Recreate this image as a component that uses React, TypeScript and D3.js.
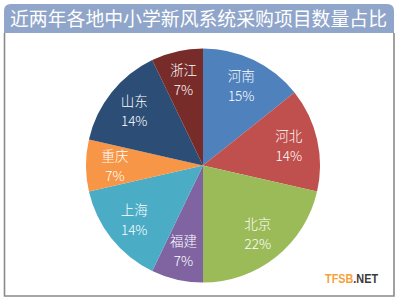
import React from "react";
import * as d3 from "d3";

const title = "近两年各地中小学新风系统采购项目数量占比";
const regions = ["河南", "河北", "北京", "福建", "上海", "重庆", "山东", "浙江"];
const counts = [2, 2, 3, 1, 2, 1, 2, 1];
const pctLabels = ["15%", "14%", "22%", "7%", "14%", "7%", "14%", "7%"];
const colors = ["#4F81BD", "#C0504D", "#9BBB59", "#8064A2", "#4BACC6", "#F79646", "#2C4D75", "#772C2A"];
const watermarkA = "TFSB";
const watermarkB = ".NET";

const W = 400;
const H = 301;
const cx = 203;
const cy = 165.5;
const R = 117;
const labelR = 88;

export default function App() {
  const data = regions.map((name, i) => ({ name, value: counts[i], pct: pctLabels[i], color: colors[i] }));
  const pie = d3.pie<any>().value((d: any) => d.value).sort(null);
  const arcs = pie(data);
  const arc = d3.arc<any>().innerRadius(0).outerRadius(R);
  const labelArc = d3.arc<any>().innerRadius(labelR).outerRadius(labelR);
  const font = "'Noto Sans CJK SC', 'Noto Sans', sans-serif";

  const bx0 = 4, bx1 = 394, by0 = 4, by1 = 33, rr = 7;
  const barPath = `M${bx0},${by1} L${bx0},${by0 + rr} Q${bx0},${by0} ${bx0 + rr},${by0} L${bx1 - rr},${by0} Q${bx1},${by0} ${bx1},${by0 + rr} L${bx1},${by1} Z`;
  const wmFont = "'Liberation Sans', Arial, sans-serif";

  return (
    <div style={{ position: "absolute", left: 0, top: 0, width: W, height: H, background: "#fff" }}>
      <svg width={W} height={H} style={{ display: "block" }}>
        <rect x={0} y={0} width={W} height={H} fill="#fff" />
        <path d={barPath} fill="#8FA5C9" />
        <text x={10} y={26} fill="#fff" fontSize={19} fontFamily={font} textLength={377} lengthAdjust="spacingAndGlyphs">
          {title}
        </text>
        <path d={`M4.5,33 L4.5,296 L394,296 L394,33`} fill="none" stroke="#8a8a8a" strokeWidth={1.6} />
        <g transform={`translate(${cx},${cy})`}>
          {arcs.map((a, i) => (
            <path key={i} d={arc(a) as string} fill={a.data.color} />
          ))}
          {arcs.map((a, i) => {
            const [x, y] = labelArc.centroid(a);
            return (
              <g key={"l" + i} transform={`translate(${x},${y})`} fill="#fff" fontFamily={font} fontSize={13.5} fontWeight={300} textAnchor="middle">
                <text y={-5}>{a.data.name}</text>
                <text y={15}>{a.data.pct}</text>
              </g>
            );
          })}
        </g>
        <g transform="translate(325,283) scale(0.835,1)">
          <text x={0} y={0} fontFamily={wmFont} fontWeight="bold" fontSize={13}>
            <tspan fill="#F5A23C">{watermarkA}</tspan>
            <tspan fill="#3a3a3a">{watermarkB}</tspan>
          </text>
        </g>
      </svg>
    </div>
  );
}
